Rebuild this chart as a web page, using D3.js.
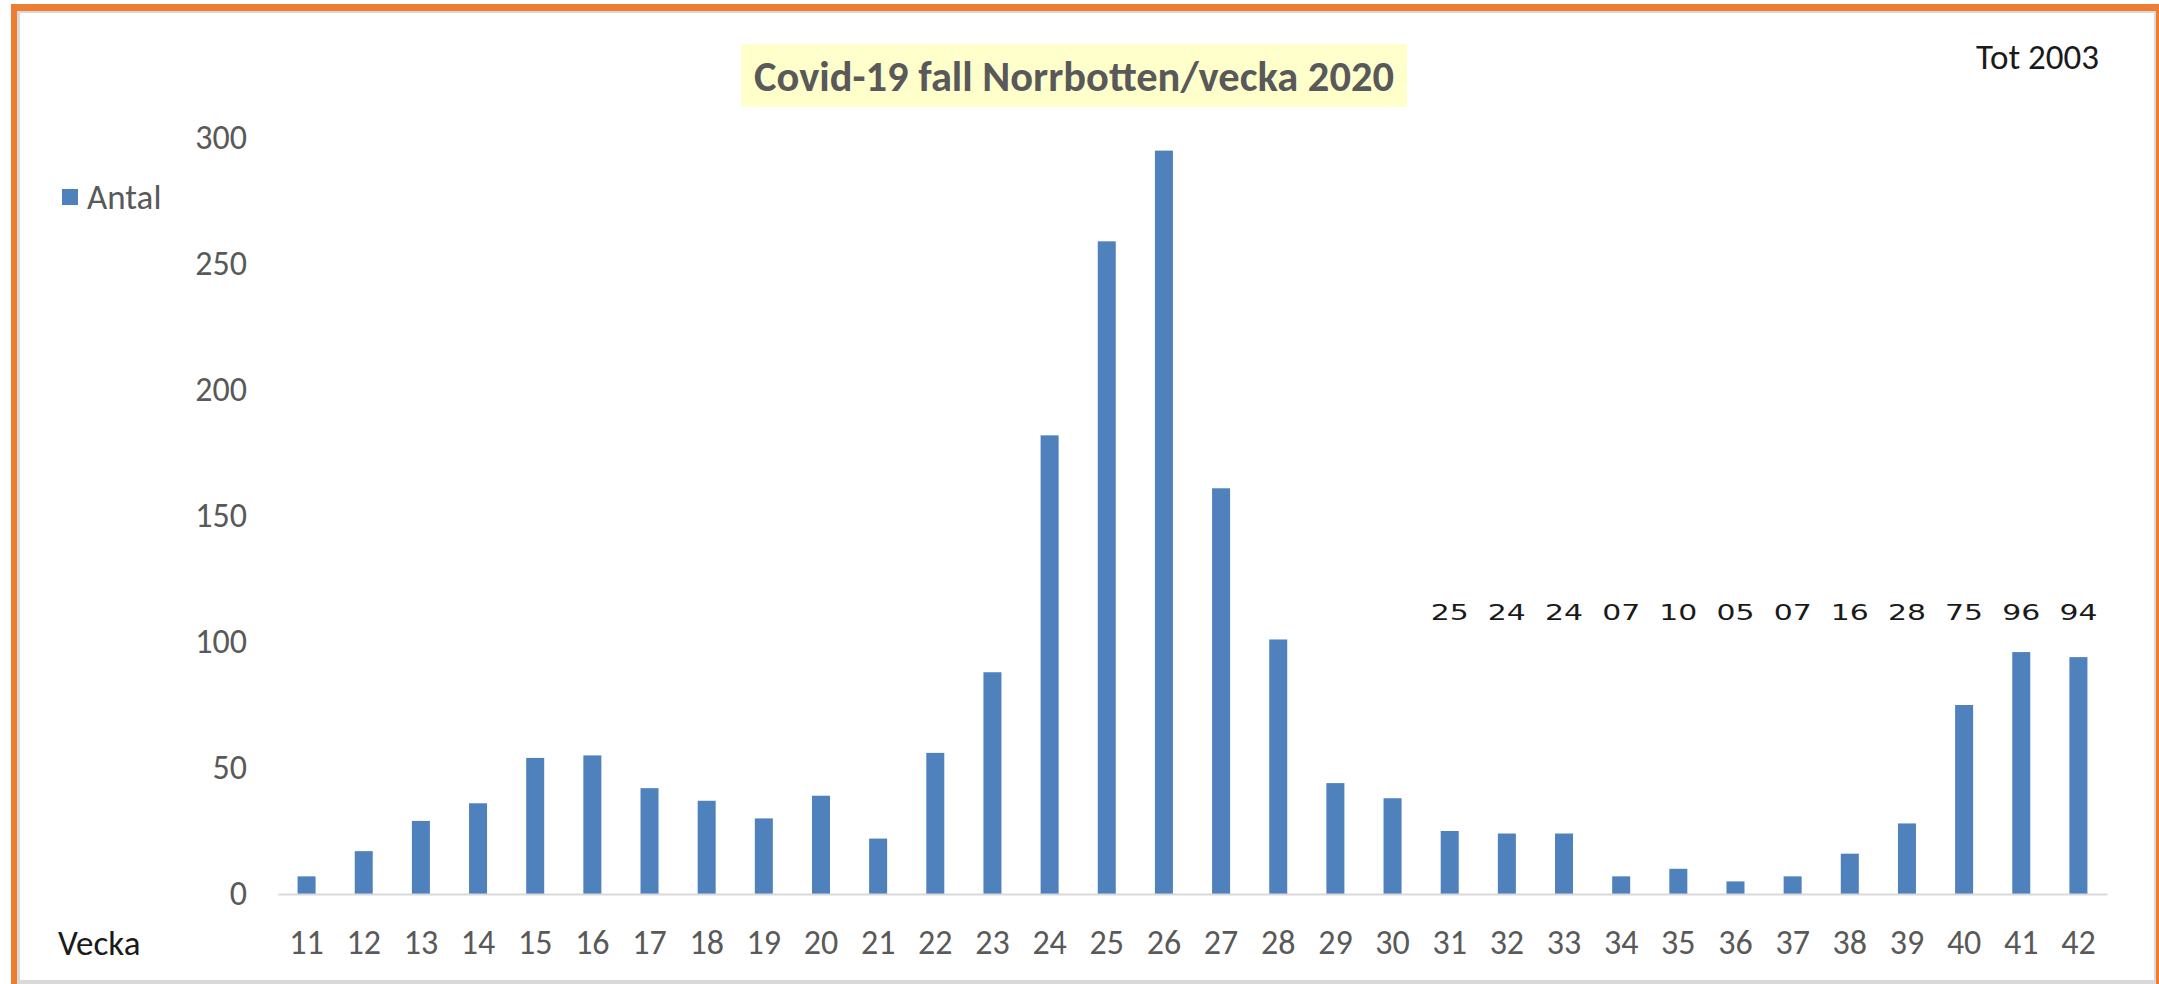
<!DOCTYPE html>
<html>
<head>
<meta charset="utf-8">
<script src="https://cdn.jsdelivr.net/npm/d3@7"></script>
<style>
  html, body { margin: 0; padding: 0; background: #fff; }
  svg { display: block; }
  .calib { font-family: Carlito, "Liberation Sans Narrow", "Open Sans", sans-serif; }
</style>
</head>
<body>
<svg id="chart" width="2159" height="984"></svg>
<script>
// ---- data ----
const weeks = ["11","12","13","14","15","16","17","18","19","20","21","22","23","24","25","26",
               "27","28","29","30","31","32","33","34","35","36","37","38","39","40","41","42"];
const cases = [7,17,29,36,54,55,42,37,30,39,22,56,88,182,259,295,
               161,101,44,38,25,24,24,7,10,5,7,16,28,75,96,94];
const labelledWeeks = ["31","32","33","34","35","36","37","38","39","40","41","42"];
const yTicks = [0,50,100,150,200,250,300];
const titleText = "Covid-19 fall Norrbotten/vecka 2020";
const totalText = "Tot 2003";
const seriesName = "Antal";
const xAxisName = "Vecka";

const data = weeks.map((w, i) => ({ week: w, value: cases[i] }));

const svg = d3.select("#chart");

// frame
svg.append("rect").attr("x", 0).attr("y", 0).attr("width", 2159).attr("height", 984).attr("fill", "#fff");
svg.append("rect").attr("x", 11).attr("y", 4).attr("width", 2148).attr("height", 980).attr("fill", "#ED7D31");
svg.append("rect").attr("x", 17).attr("y", 11).attr("width", 2139).attr("height", 973).attr("fill", "#d9d9d9");
svg.append("rect").attr("x", 20).attr("y", 13).attr("width", 2134).attr("height", 967).attr("fill", "#fff");

// scales
const x = d3.scaleBand().domain(weeks).range([278, 2107]).paddingInner(0.685).paddingOuter(0.3425);
const y = d3.scaleLinear().domain([0, 300]).range([894, 138]);

// bars
svg.append("g").selectAll("rect").data(data).join("rect")
  .attr("x", d => x(d.week))
  .attr("width", x.bandwidth())
  .attr("y", d => y(d.value))
  .attr("height", d => y(0) - y(d.value))
  .attr("fill", "#4F81BD");

// x axis
const gx = svg.append("g").attr("transform", `translate(0,${y(0)})`)
  .call(d3.axisBottom(x).tickSize(0).tickSizeOuter(0).tickPadding(36));
gx.select(".domain").attr("stroke", "#d9d9d9").attr("stroke-width", 2);
gx.selectAll("text").attr("class", "calib").attr("font-size", 34).attr("fill", "#595959");

// y axis
const gy = svg.append("g").attr("transform", `translate(278,0)`)
  .call(d3.axisLeft(y).tickValues(yTicks).tickSize(0).tickPadding(31));
gy.select(".domain").remove();
gy.selectAll("text").attr("class", "calib").attr("font-size", 34).attr("fill", "#595959");

// data labels
const fmt = d3.format("02d");
svg.append("g").selectAll("text").data(data.filter(d => labelledWeeks.includes(d.week))).join("text")
  .attr("x", d => x(d.week) + x.bandwidth() / 2)
  .attr("y", 612)
  .attr("dy", "0.36em")
  .attr("text-anchor", "middle")
  .attr("font-family", "'DejaVu Sans', Verdana, sans-serif")
  .attr("font-size", 22)
  .attr("fill", "#1a1a1a")
  .attr("textLength", 38)
  .attr("lengthAdjust", "spacingAndGlyphs")
  .text(d => fmt(d.value));

// title
svg.append("rect").attr("x", 741).attr("y", 44).attr("width", 666).attr("height", 63).attr("fill", "#FFFFCC");
const title = svg.append("text").attr("class", "calib")
  .attr("x", 1074).attr("y", 76).attr("dy", "0.35em")
  .attr("text-anchor", "middle").attr("font-weight", "bold")
  .attr("font-size", 40).attr("fill", "#595959")
  .text(titleText);
function fitWidth(sel, target) {
  const fs = +sel.attr("font-size");
  const w = sel.node().getComputedTextLength();
  if (w > 0) sel.attr("font-size", fs * target / w);
}
fitWidth(title, 640);

// total
svg.append("text").attr("class", "calib")
  .attr("x", 2099).attr("y", 57).attr("dy", "0.35em")
  .attr("text-anchor", "end").attr("font-size", 35).attr("fill", "#1a1a1a")
  .text(totalText);

// legend
svg.append("rect").attr("x", 62).attr("y", 189).attr("width", 16).attr("height", 16).attr("fill", "#4F81BD");
svg.append("text").attr("class", "calib")
  .attr("x", 87).attr("y", 197).attr("dy", "0.35em")
  .attr("font-size", 35).attr("fill", "#595959")
  .text(seriesName);

// x axis name
svg.append("text").attr("class", "calib")
  .attr("x", 58).attr("y", 943).attr("dy", "0.35em")
  .attr("font-size", 35).attr("fill", "#1a1a1a")
  .text(xAxisName);
</script>
</body>
</html>
